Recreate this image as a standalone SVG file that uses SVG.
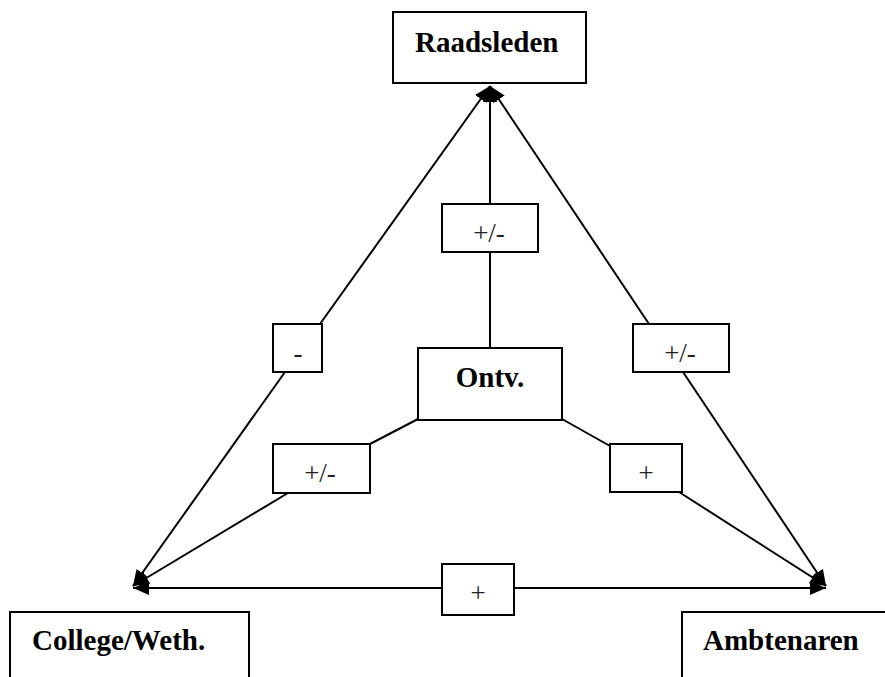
<svg xmlns="http://www.w3.org/2000/svg" width="885" height="677" viewBox="0 0 885 677">
<style>
.box{fill:#fff;stroke:#000;stroke-width:2}
.ln{stroke:#000;stroke-width:2;fill:none}
.big{font-family:"Liberation Serif","Times New Roman",serif;font-weight:bold;font-size:29px;fill:#000}
.lab{font-family:"Liberation Serif","Times New Roman",serif;font-size:27px;fill:#222;text-anchor:middle}
</style>
<defs>
<marker id="ah" markerUnits="userSpaceOnUse" viewBox="0 0 16 14" markerWidth="16" markerHeight="14" refX="16" refY="7" orient="auto-start-reverse">
<path d="M0,0 L16,7 L0,14 z" fill="#000"/>
</marker>
</defs>
<rect width="885" height="677" fill="#fff"/>
<g id="connectors">
<line class="ln" x1="490" y1="86" x2="320" y2="324" marker-start="url(#ah)"/>
<line class="ln" x1="285" y1="372" x2="133" y2="586" marker-end="url(#ah)"/>
<line class="ln" x1="490" y1="86" x2="649" y2="324" marker-start="url(#ah)"/>
<line class="ln" x1="683" y1="372" x2="826" y2="586" marker-end="url(#ah)"/>
<line class="ln" x1="490" y1="86" x2="490" y2="204" marker-start="url(#ah)"/>
<line class="ln" x1="490" y1="252" x2="490" y2="348"/>
<line class="ln" x1="418" y1="419" x2="370" y2="444"/>
<line class="ln" x1="288" y1="493" x2="133" y2="586" marker-end="url(#ah)"/>
<line class="ln" x1="562" y1="419" x2="610" y2="446"/>
<line class="ln" x1="679" y1="492" x2="826" y2="586" marker-end="url(#ah)"/>
<line class="ln" x1="133" y1="588" x2="442" y2="588" marker-start="url(#ah)"/>
<line class="ln" x1="514" y1="588" x2="826" y2="588" marker-end="url(#ah)"/>
</g>
<g id="raadsleden">
<rect class="box" x="393" y="12" width="193" height="71"/>
<text class="big" x="415" y="52">Raadsleden</text>
</g>
<g id="college">
<rect class="box" x="10" y="612" width="239" height="80"/>
<text class="big" x="32" y="650">College/Weth.</text>
</g>
<g id="ambtenaren">
<rect class="box" x="682" y="612" width="220" height="80"/>
<text class="big" x="703" y="650">Ambtenaren</text>
</g>
<g id="ontv">
<rect class="box" x="418" y="348" width="144" height="72"/>
<text class="big" x="490" y="387" text-anchor="middle">Ontv.</text>
</g>
<g id="label-top">
<rect class="box" x="442" y="204" width="96" height="48"/>
<text class="lab" x="489" y="242">+/-</text>
</g>
<g id="label-left">
<rect class="box" x="273" y="324" width="49" height="48"/>
<text class="lab" x="298" y="362">-</text>
</g>
<g id="label-right">
<rect class="box" x="633" y="324" width="96" height="48"/>
<text class="lab" x="680" y="362">+/-</text>
</g>
<g id="label-ontv-left">
<rect class="box" x="273" y="444" width="97" height="49"/>
<text class="lab" x="320" y="482">+/-</text>
</g>
<g id="label-ontv-right">
<rect class="box" x="610" y="444" width="72" height="48"/>
<text class="lab" x="646" y="482">+</text>
</g>
<g id="label-bottom">
<rect class="box" x="442" y="564" width="72" height="51"/>
<text class="lab" x="478" y="602">+</text>
</g>
</svg>
